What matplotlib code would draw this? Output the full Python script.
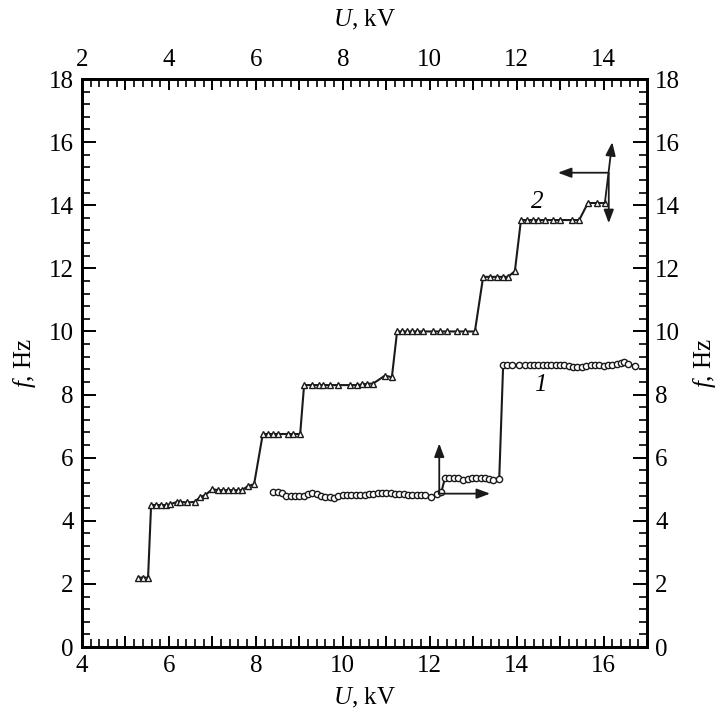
import matplotlib
matplotlib.use("Agg")
import matplotlib.pyplot as plt
from matplotlib.ticker import MultipleLocator

# Curve 2 (triangles): bottom U axis, left f axis
u2 = [5.29, 5.41, 5.52, 5.59, 5.70, 5.82, 5.93, 6.02, 6.19, 6.26, 6.42, 6.60, 6.71, 6.83,
      7.00, 7.13, 7.24, 7.36, 7.47, 7.59, 7.68, 7.82, 7.96,
      8.16, 8.28, 8.39, 8.51, 8.74, 8.86, 9.02,
      9.11, 9.29, 9.45, 9.55, 9.71, 9.89, 10.17, 10.33, 10.44, 10.56, 10.70, 10.97, 11.13,
      11.25, 11.36, 11.48, 11.59, 11.71, 11.85, 12.08, 12.24, 12.40, 12.63, 12.81, 13.04,
      13.23, 13.39, 13.55, 13.69, 13.80, 13.96,
      14.10, 14.24, 14.38, 14.49, 14.65, 14.84, 15.00, 15.27, 15.44,
      15.64, 15.85, 16.03]
f2 = [2.2, 2.2, 2.2, 4.5, 4.5, 4.5, 4.5, 4.52, 4.6, 4.6, 4.58, 4.6, 4.75, 4.81,
      5.0, 4.97, 4.97, 4.97, 4.97, 4.97, 4.97, 5.1, 5.16,
      6.75, 6.75, 6.75, 6.75, 6.75, 6.75, 6.75,
      8.3, 8.3, 8.3, 8.3, 8.3, 8.3, 8.3, 8.3, 8.32, 8.34, 8.35, 8.6, 8.55,
      10.0, 10.0, 10.0, 10.0, 10.0, 10.0, 10.0, 10.0, 10.0, 10.0, 10.0, 10.0,
      11.73, 11.73, 11.73, 11.73, 11.73, 11.91,
      13.53, 13.53, 13.53, 13.53, 13.53, 13.53, 13.53, 13.53, 13.53,
      14.07, 14.07, 14.07]

# Curve 1 (circles): top U axis, right f axis
u1 = [6.40, 6.50, 6.60, 6.70, 6.80, 6.90, 7.00, 7.10, 7.20, 7.30, 7.40, 7.50, 7.60, 7.70,
      7.80, 7.90, 8.00, 8.10, 8.20, 8.30, 8.40, 8.50, 8.60, 8.70, 8.80, 8.90, 9.00, 9.10,
      9.20, 9.30, 9.40, 9.50, 9.60, 9.70, 9.80, 9.90, 10.04, 10.16, 10.27,
      10.35, 10.45, 10.55, 10.65, 10.77, 10.87, 10.97, 11.07, 11.17, 11.27, 11.37, 11.46, 11.60,
      11.69, 11.79, 11.89, 12.05, 12.20, 12.30, 12.40, 12.50, 12.60, 12.70, 12.80, 12.90,
      13.00, 13.10, 13.20, 13.30, 13.40, 13.50, 13.60, 13.70, 13.80, 13.90, 14.00, 14.10,
      14.20, 14.30, 14.40, 14.48, 14.56, 14.72]
f1 = [4.90, 4.90, 4.88, 4.80, 4.79, 4.78, 4.78, 4.80, 4.86, 4.87, 4.85, 4.77, 4.74, 4.74,
      4.71, 4.80, 4.82, 4.83, 4.81, 4.82, 4.81, 4.83, 4.84, 4.86, 4.87, 4.87, 4.88, 4.87,
      4.85, 4.84, 4.84, 4.83, 4.82, 4.83, 4.83, 4.82, 4.74, 4.86, 4.92,
      5.35, 5.35, 5.34, 5.34, 5.28, 5.33, 5.35, 5.35, 5.35, 5.35, 5.33, 5.28, 5.33,
      8.93, 8.94, 8.94, 8.94, 8.94, 8.94, 8.94, 8.93, 8.94, 8.94, 8.93, 8.93,
      8.93, 8.93, 8.92, 8.87, 8.86, 8.88, 8.92, 8.93, 8.94, 8.93, 8.92, 8.93,
      8.95, 8.97, 9.00, 9.02, 8.98, 8.90]

bottom_ticks = list(range(4, 18))
top_ticks = list(range(2, 16))
f_ticks = [0, 2, 4, 6, 8, 10, 12, 14, 16, 18]

serif = ["Liberation Serif", "DejaVu Serif"]
plt.rcParams["font.family"] = serif
plt.rcParams["mathtext.fontset"] = "custom"
plt.rcParams["mathtext.it"] = "Liberation Serif:italic"
plt.rcParams["mathtext.rm"] = "Liberation Serif"

fig = plt.figure(figsize=(7.24, 7.13), dpi=100)
ax = fig.add_axes([82 / 724, 1 - 647 / 713, 565 / 724, 568 / 713])
ax.set_xlim(4, 17)
ax.set_ylim(0, 18)

axt = ax.twiny()
axt.set_xlim(2, 15)
axr = ax.twinx()
axr.set_ylim(0, 18)

fs = 18
lw_sp = 1.8
for a in (ax, axt, axr):
    for s in a.spines.values():
        s.set_linewidth(lw_sp)

ax.set_xticks(bottom_ticks)
ax.set_xticklabels([str(i) if i % 2 == 0 else "" for i in bottom_ticks])
ax.xaxis.set_minor_locator(MultipleLocator(0.2))
ax.set_yticks(f_ticks)
ax.yaxis.set_minor_locator(MultipleLocator(0.4))

axt.set_xticks(top_ticks)
axt.set_xticklabels([str(i) if i % 2 == 0 else "" for i in top_ticks])
axt.xaxis.set_minor_locator(MultipleLocator(0.2))
axr.set_yticks(f_ticks)
axr.yaxis.set_minor_locator(MultipleLocator(0.4))

for a in (ax, axt, axr):
    a.tick_params(which="major", direction="in", length=10, width=1.4, labelsize=fs, pad=6)
    a.tick_params(which="minor", direction="in", length=6, width=1.2)
ax.tick_params(axis="x", which="major", length=8)
axt.tick_params(axis="x", which="major", length=8)

ax.set_xlabel(r"$U$, kV", fontsize=fs, labelpad=6)
axt.set_xlabel(r"$U$, kV", fontsize=fs, labelpad=16)
ax.set_ylabel(r"$f$, Hz", fontsize=fs, labelpad=8)
axr.set_ylabel(r"$f$, Hz", fontsize=fs, labelpad=8, rotation=90)

ax.plot(u2, f2, color="#1a1a1a", lw=1.5, marker="^", ms=4.5, mfc="white",
        mec="#1a1a1a", mew=1.0, zorder=3)
axt.plot(u1, f1, color="#1a1a1a", lw=1.5, marker="o", ms=4.5, mfc="white",
         mec="#1a1a1a", mew=1.0, zorder=3)

arr = dict(arrowstyle="-|>,head_length=0.8,head_width=0.3", color="#1a1a1a",
           lw=1.3, shrinkA=0, shrinkB=0)
# curve 2 axis indicators (bottom/left)
ax.annotate("", xy=(16.2, 16.0), xytext=(16.03, 14.07), arrowprops=arr)
ax.annotate("", xy=(14.95, 15.03), xytext=(16.09, 15.03), arrowprops=arr)
ax.annotate("", xy=(16.12, 13.43), xytext=(16.12, 15.03), arrowprops=arr)
# curve 1 axis indicators (top/right)
axt.annotate("", xy=(10.22, 6.45), xytext=(10.22, 4.86), arrowprops=arr)
axt.annotate("", xy=(11.39, 4.86), xytext=(10.22, 4.86), arrowprops=arr)

ax.text(14.48, 14.1, "2", fontsize=fs, style="italic", ha="center", va="center")
ax.text(14.54, 8.3, "1", fontsize=fs, style="italic", ha="center", va="center")

fig.savefig("out.png", dpi=100)
